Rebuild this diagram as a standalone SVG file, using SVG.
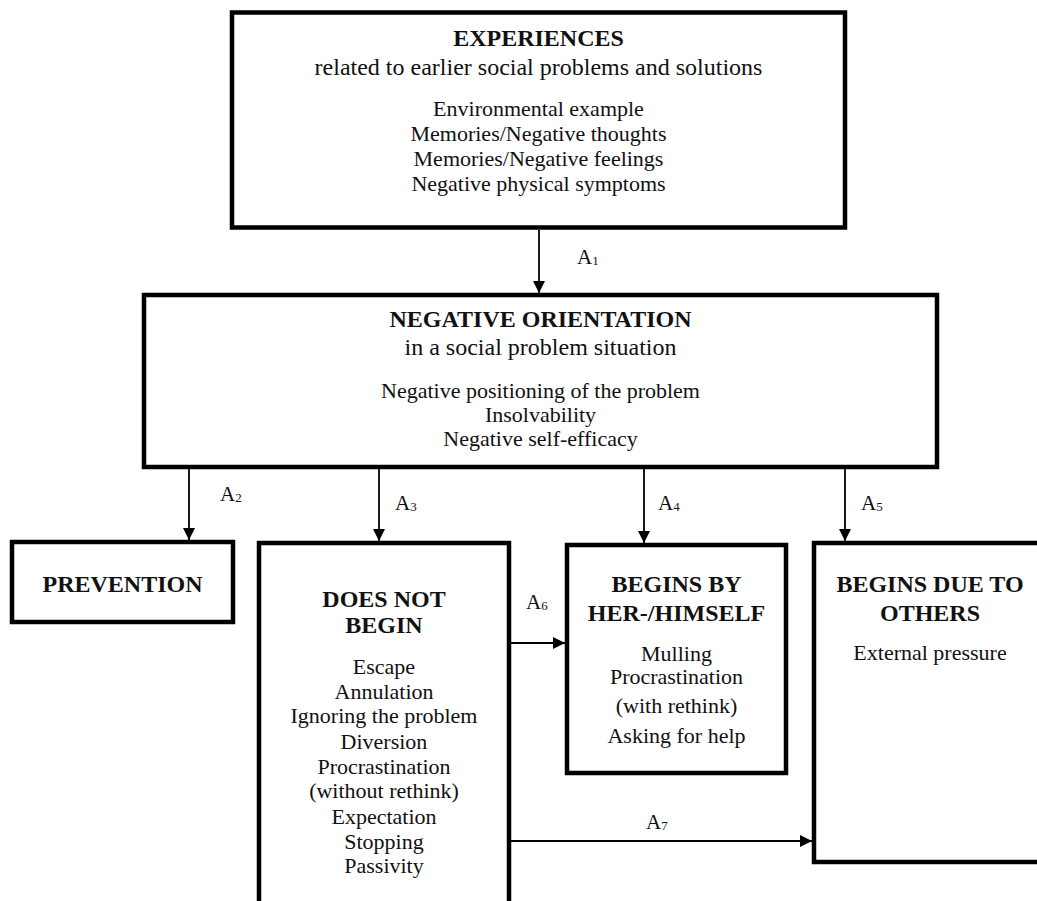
<svg xmlns="http://www.w3.org/2000/svg" width="1037" height="901" viewBox="0 0 1037 901">
<style>
.box{fill:#fff;stroke:#000;stroke-width:4.5}
.t{font-family:"Liberation Serif","Times New Roman",serif;fill:#111;text-anchor:middle}
.h{font-size:24px;font-weight:bold}
.s{font-size:24px}
.l{font-size:22px}
.lab{font-family:"Liberation Serif","Times New Roman",serif;fill:#111;font-size:21px}
.sub{font-size:13px}
.c{stroke:#000;stroke-width:1.8;fill:none;marker-end:url(#ah)}
</style>
<defs>
<marker id="ah" viewBox="0 0 12 12" refX="12" refY="6" markerWidth="12" markerHeight="12" markerUnits="userSpaceOnUse" orient="auto">
<path d="M0,0 L12,6 L0,12 z" fill="#000"/>
</marker>
</defs>
<rect width="1037" height="901" fill="#fff"/>
<g id="experiences">
<rect class="box" x="232" y="12.5" width="613" height="215"/>
<text class="t h" x="538.5" y="46">EXPERIENCES</text>
<text class="t s" x="538.5" y="75">related to earlier social problems and solutions</text>
<text class="t l" x="538.5" y="116">Environmental example</text>
<text class="t l" x="538.5" y="141">Memories/Negative thoughts</text>
<text class="t l" x="538.5" y="166">Memories/Negative feelings</text>
<text class="t l" x="538.5" y="191">Negative physical symptoms</text>
</g>
<g id="negative-orientation">
<rect class="box" x="144" y="295" width="793" height="172"/>
<text class="t h" x="540.5" y="327">NEGATIVE ORIENTATION</text>
<text class="t s" x="540.5" y="355">in a social problem situation</text>
<text class="t l" x="540.5" y="398">Negative positioning of the problem</text>
<text class="t l" x="540.5" y="422">Insolvability</text>
<text class="t l" x="540.5" y="446">Negative self-efficacy</text>
</g>
<g id="prevention">
<rect class="box" x="12" y="542" width="221" height="80"/>
<text class="t h" x="122.5" y="592">PREVENTION</text>
</g>
<g id="does-not-begin">
<rect class="box" x="259" y="543" width="250" height="370"/>
<text class="t h" x="384" y="607">DOES NOT</text>
<text class="t h" x="384" y="633">BEGIN</text>
<text class="t l" x="384" y="674">Escape</text>
<text class="t l" x="384" y="699">Annulation</text>
<text class="t l" x="384" y="723">Ignoring the problem</text>
<text class="t l" x="384" y="749">Diversion</text>
<text class="t l" x="384" y="774">Procrastination</text>
<text class="t l" x="384" y="798">(without rethink)</text>
<text class="t l" x="384" y="824">Expectation</text>
<text class="t l" x="384" y="849">Stopping</text>
<text class="t l" x="384" y="873">Passivity</text>
</g>
<g id="begins-by-self">
<rect class="box" x="567" y="545" width="219" height="228"/>
<text class="t h" x="676.5" y="592">BEGINS BY</text>
<text class="t h" x="676.5" y="621">HER-/HIMSELF</text>
<text class="t l" x="676.5" y="661">Mulling</text>
<text class="t l" x="676.5" y="684">Procrastination</text>
<text class="t l" x="676.5" y="713">(with rethink)</text>
<text class="t l" x="676.5" y="743">Asking for help</text>
</g>
<g id="begins-due-to-others">
<rect class="box" x="814" y="543" width="232" height="319"/>
<text class="t h" x="930" y="592">BEGINS DUE TO</text>
<text class="t h" x="930" y="621">OTHERS</text>
<text class="t l" x="930" y="660">External pressure</text>
</g>
<g id="connectors">
<line class="c" x1="539" y1="230" x2="539" y2="293"/>
<line class="c" x1="189" y1="469" x2="189" y2="540"/>
<line class="c" x1="379" y1="469" x2="379" y2="541"/>
<line class="c" x1="644" y1="469" x2="644" y2="543"/>
<line class="c" x1="845" y1="469" x2="845" y2="541"/>
<line class="c" x1="511" y1="643" x2="565" y2="643"/>
<line class="c" x1="511" y1="841" x2="812" y2="841"/>
<text class="lab" x="577" y="264">A<tspan class="sub" dy="1">1</tspan></text>
<text class="lab" x="220" y="501">A<tspan class="sub" dy="1">2</tspan></text>
<text class="lab" x="395" y="510">A<tspan class="sub" dy="1">3</tspan></text>
<text class="lab" x="658" y="510">A<tspan class="sub" dy="1">4</tspan></text>
<text class="lab" x="861" y="510">A<tspan class="sub" dy="1">5</tspan></text>
<text class="lab" x="526" y="609">A<tspan class="sub" dy="1">6</tspan></text>
<text class="lab" x="646" y="829">A<tspan class="sub" dy="1">7</tspan></text>
</g>
</svg>
